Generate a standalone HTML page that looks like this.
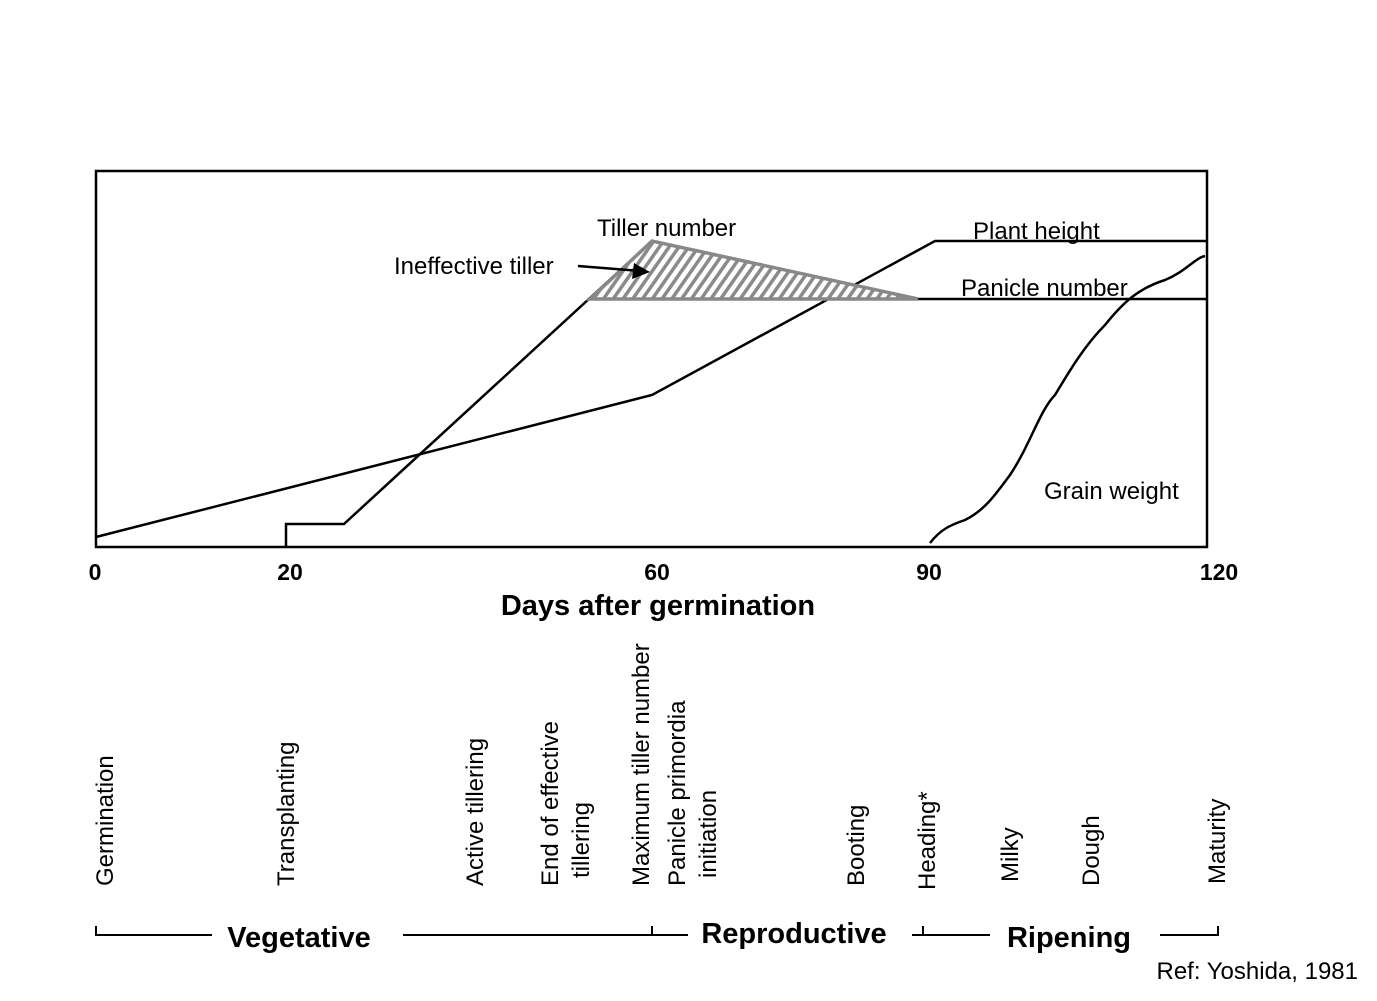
<!DOCTYPE html>
<html><head><meta charset="utf-8"><style>body{margin:0;background:#fff}svg{display:block}text{font-family:"Liberation Sans",Arial,sans-serif;fill:#000}</style></head>
<body>
<svg width="1377" height="1001" viewBox="0 0 1377 1001" xmlns="http://www.w3.org/2000/svg">
<defs>
<pattern id="h" patternUnits="userSpaceOnUse" width="8" height="8" patternTransform="rotate(35)">
<rect width="8" height="8" fill="#fff"/><rect width="3.5" height="8" fill="#8a8a8a"/>
</pattern>
</defs>
<rect x="96" y="171" width="1111" height="376" fill="none" stroke="#000" stroke-width="2.5"/>
<g fill="none" stroke="#000" stroke-width="2.5">
<polyline points="286,547 286,524 344,524 652,241 918,299 1207,299"/>
<polyline points="96,537 652,395 935,241 1207,241"/>
<path d="M930,543 C940,530 950,525 965,520 C985,510 995,495 1010,475 C1030,445 1040,410 1055,395 C1070,370 1085,345 1105,325 C1125,300 1140,288 1165,280 C1185,272 1195,258 1205,256"/>
</g>
<polygon points="590,299 652,241 918,299" fill="url(#h)" stroke="#888" stroke-width="3.5"/>
<line x1="578" y1="266" x2="640" y2="271" stroke="#000" stroke-width="2.5"/>
<polygon points="650,272 634,263 632,279" fill="#000"/>
<g font-size="24">
<text x="597" y="236">Tiller number</text>
<text x="394" y="274">Ineffective tiller</text>
<text x="973" y="239">Plant height</text>
<text x="961" y="296">Panicle number</text>
<text x="1044" y="499">Grain weight</text>
</g>
<g font-size="23" font-weight="bold" text-anchor="middle">
<text x="95" y="580">0</text><text x="290" y="580">20</text><text x="657" y="580">60</text><text x="929" y="580">90</text><text x="1219" y="580">120</text>
</g>
<text x="658" y="615" font-size="29" font-weight="bold" text-anchor="middle">Days after germination</text>
<g font-size="24">
<text transform="translate(113,886) rotate(-90)">Germination</text>
<text transform="translate(294,886) rotate(-90)">Transplanting</text>
<text transform="translate(483,886) rotate(-90)">Active tillering</text>
<text transform="translate(558,886) rotate(-90)">End of effective</text>
<text transform="translate(589,878) rotate(-90)">tillering</text>
<text transform="translate(649,886) rotate(-90)">Maximum tiller number</text>
<text transform="translate(685,886) rotate(-90)">Panicle primordia</text>
<text transform="translate(716,878) rotate(-90)">initiation</text>
<text transform="translate(864,886) rotate(-90)">Booting</text>
<text transform="translate(935,890) rotate(-90)">Heading*</text>
<text transform="translate(1018,882) rotate(-90)">Milky</text>
<text transform="translate(1099,886) rotate(-90)">Dough</text>
<text transform="translate(1225,884) rotate(-90)">Maturity</text>
</g>
<g stroke="#000" stroke-width="2" fill="none">
<polyline points="96,926 96,935 212,935"/>
<polyline points="403,935 652,935 652,926"/><line x1="652" y1="935" x2="688" y2="935"/>
<polyline points="912,935 923,935 923,926"/><line x1="923" y1="935" x2="990" y2="935"/>
<polyline points="1160,935 1218,935 1218,926"/>
</g>
<g font-size="29" font-weight="bold" text-anchor="middle">
<text x="299" y="947">Vegetative</text>
<text x="794" y="943">Reproductive</text>
<text x="1069" y="947">Ripening</text>
</g>
<text x="1358" y="979" font-size="24" text-anchor="end">Ref: Yoshida, 1981</text>
</svg>
</body></html>
